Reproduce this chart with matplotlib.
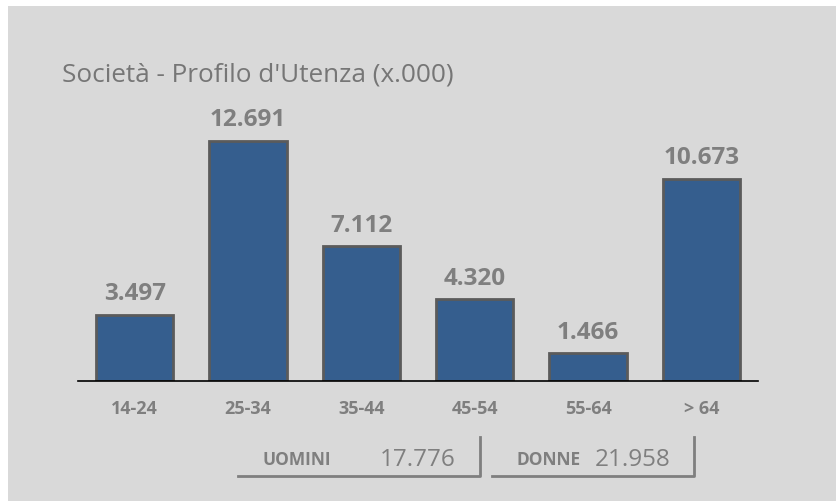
import matplotlib
matplotlib.use("Agg")
import matplotlib.pyplot as plt
from matplotlib.patches import Rectangle
from matplotlib.lines import Line2D

# Age bands and users per band (thousands)
categories = ["14-24", "25-34", "35-44", "45-54", "55-64", "> 64"]
values = [3.497, 12.691, 7.112, 4.320, 1.466, 10.673]
value_labels = ["3.497", "12.691", "7.112", "4.320", "1.466", "10.673"]

# Gender totals (thousands)
gender_names = ["UOMINI", "DONNE"]
gender_labels = ["17.776", "21.958"]

title = "Società - Profilo d'Utenza (x.000)"

W, H = 836, 502
BG = "#d9d9d9"
BAR = "#355e8e"
EDGE = "#5b5b5b"
TXT = "#7f7f7f"
FONT = ["Open Sans", "DejaVu Sans"]

fig = plt.figure(figsize=(W / 100, H / 100), dpi=100)
fig.patch.set_facecolor("white")

def fx(px):
    return px / W

def fy(py):
    return 1 - py / H

# grey panel
fig.patches.append(Rectangle((fx(8), 0), 1 - fx(8), fy(7), transform=fig.transFigure,
                             facecolor=BG, edgecolor="none", zorder=-5))

# bar chart area
ax_left, ax_right, ax_base, ax_top = 78, 758, 382, 100
ax = fig.add_axes([fx(ax_left), fy(ax_base), fx(ax_right - ax_left), (ax_base - ax_top) / H])
ax.set_zorder(2)
ax.set_facecolor("none")
x = list(range(len(categories)))
ax.bar(x, values, width=0.68, color=BAR, edgecolor=EDGE, linewidth=2.0, zorder=2)
ax.set_xlim(-0.5, 5.5)
ymax = (ax_base - ax_top) / 18.92
ax.set_ylim(0, ymax)
for s in ["left", "right", "top"]:
    ax.spines[s].set_visible(False)
ax.spines["bottom"].set_color("black")
ax.spines["bottom"].set_linewidth(1.2)
ax.spines["bottom"].set_zorder(3)
ax.set_yticks([])
ax.set_xticks(x)
ax.set_xticklabels(categories, fontsize=13, fontweight="bold", color=TXT, family=FONT)
ax.tick_params(axis="x", length=0, pad=13)
for xi, v, lab in zip(x, values, value_labels):
    ax.annotate(lab, (xi, v), xytext=(0, 7), textcoords="offset points",
                ha="center", va="bottom", fontsize=17.5, fontweight="bold",
                color=TXT, family=FONT)

fig.text(fx(62), fy(75), title, fontsize=18.8, color="#767676", family=FONT,
         ha="left", va="center")

# gender summary boxes
boxes = [(238, 480), (492, 694)]
for (x0, x1), name, lab in zip(boxes, gender_names, gender_labels):
    fig.add_artist(Line2D([fx(x0), fx(x1), fx(x1)], [fy(477), fy(477), fy(438)],
                          color=TXT, linewidth=2, transform=fig.transFigure))
    fig.text(fx(x0 + 25), fy(460), name, fontsize=12.5, fontweight="bold",
             color=TXT, family=FONT, ha="left", va="center")
    fig.text(fx(x1 - 24), fy(460), lab, fontsize=17.5, color=TXT, family=FONT,
             ha="right", va="center")

fig.savefig("out.png", dpi=100, facecolor=fig.get_facecolor())
